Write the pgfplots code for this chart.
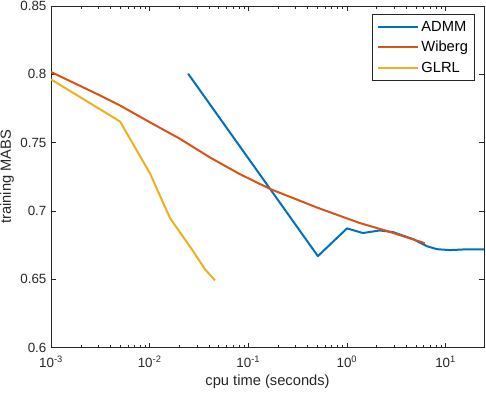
\documentclass[border=0pt]{standalone}
\usepackage{fontspec}
\setmainfont{Liberation Sans}
\usepackage{pgfplots}
\pgfplotsset{compat=1.18}

\definecolor{mblue}{rgb}{0,0.447,0.741}
\definecolor{morange}{rgb}{0.85,0.325,0.098}
\definecolor{myellow}{rgb}{0.929,0.694,0.125}
\definecolor{axgray}{rgb}{0.15,0.15,0.15}

\begin{document}
\begin{tikzpicture}
\begin{semilogxaxis}[
    scale only axis,
    width=324pt,
    height=255.75pt,
    xmin=1e-3, xmax=24.5,
    ymin=0.6, ymax=0.85,
    xtick={1e-3,1e-2,1e-1,1,10},
    xticklabels={10\textsuperscript{-3},10\textsuperscript{-2},10\textsuperscript{-1},10\textsuperscript{0},10\textsuperscript{1}},
    ytick={0.6,0.65,0.7,0.75,0.8,0.85},
    yticklabels={0.6,0.65,0.7,0.75,0.8,0.85},
    tick align=inside,
    major tick length=3.5pt,
    minor tick length=2pt,
    tick style={axgray, line width=0.4pt},
    axis line style={axgray, line width=0.5pt},
    tick label style={font=\fontsize{10}{12}\selectfont, text=axgray},
    xticklabel style={yshift=-2.5pt},
    label style={font=\fontsize{11}{13}\selectfont, text=axgray},
    xlabel={cpu time (seconds)},
    ylabel={training MABS},
    xlabel style={yshift=1pt},
    ylabel style={yshift=-2pt},
    legend style={at={(1,1)}, anchor=north east, xshift=-6.75pt, yshift=-6pt,
        draw=axgray, line width=0.5pt, font=\fontsize{11}{13}\selectfont,
        row sep=2pt, inner xsep=3pt, inner ysep=3pt},
    legend cell align=left,
    legend image code/.code={\draw[#1, line width=1.5pt] (0pt,0pt) -- (30pt,0pt);},
    every axis plot/.append style={line width=1.5pt, line join=round},
]
\addplot[mblue] coordinates {
  (0.0245,0.8005) (0.507,0.667) (1.0,0.6873) (1.45,0.6839) (2.15,0.6858)
  (2.92,0.6846) (4.66,0.6795) (6.45,0.6743) (8.15,0.6721) (11.0,0.6714)
  (16.4,0.6720) (24.5,0.6719)
};
\addlegendentry{ADMM}
\addplot[morange] coordinates {
  (0.001,0.8017) (0.00313,0.7846) (0.005,0.7772) (0.01,0.7650) (0.0203,0.7528)
  (0.0408,0.7392) (0.082,0.7270) (0.1655,0.7162) (0.507,0.7023) (1.35,0.6912)
  (2.54,0.6854) (6.15,0.6765)
};
\addlegendentry{Wiberg}
\addplot[myellow] coordinates {
  (0.001,0.7963) (0.005,0.7655) (0.0101,0.7273) (0.016,0.6950) (0.0275,0.6707)
  (0.0363,0.6574) (0.0459,0.6493)
};
\addlegendentry{GLRL}
\end{semilogxaxis}
\pgfresetboundingbox
\path[use as bounding box] (current axis.south west) ++(-38.25pt,-35.25pt) rectangle ([shift={(1.5pt,4.5pt)}]current axis.north east);
\end{tikzpicture}
\end{document}
